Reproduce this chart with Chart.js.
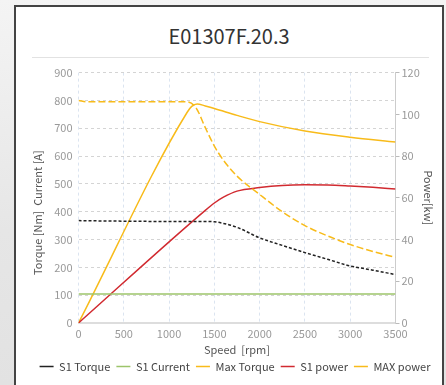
<!DOCTYPE html>
<html>
<head>
<meta charset="utf-8">
<script src="https://cdn.jsdelivr.net/npm/chart.js@4.4.1/dist/chart.umd.min.js"></script>
<style>
  html, body { margin: 0; padding: 0; }
  body {
    width: 446px; height: 385px; overflow: hidden; position: relative;
    background: linear-gradient(180deg, #f4f4f4 0%, #e6e6e6 60%, #e2e2e2 100%);
    font-family: "Noto Sans CJK SC", "Noto Sans", sans-serif;
  }
  #card {
    position: absolute; left: 14px; top: 5px; width: 426px; height: 400px;
    background: #fff; border: 2px solid #444; border-bottom: none;
  }
  #title {
    position: absolute; left: 0; top: 14px; width: 426px; text-align: center;
    font-size: 20px; color: #333;
  }
  #sep {
    position: absolute; left: 16px; top: 50px; width: 397px; height: 1px; background: #e2e2e2;
  }
  #wrap { position: absolute; left: 1px; top: 53px; width: 424px; height: 326px; }
</style>
</head>
<body>
<div id="card">
  <div id="title">E01307F.20.3</div>
  <div id="sep"></div>
  <div id="wrap"><canvas id="chartMotor"></canvas></div>
</div>
<script>
// speed axis [rpm]
const speedTicks = [0, 500, 1000, 1500, 2000, 2500, 3000, 3500];

// S1 torque [Nm]
const s1TorqueSpeed = [0, 500, 1000, 1400, 1500, 1600, 1750, 2000, 2250, 2500, 2750, 3000, 3250, 3500];
const s1TorqueVal   = [368, 366, 365, 365, 364, 358, 344, 306, 279, 253, 229, 205, 190, 174];

// S1 current [A]
const s1CurrentSpeed = [0, 3500];
const s1CurrentVal   = [104, 104];

// max torque [Nm]
const maxTorqueSpeed = [0, 100, 600, 1200, 1300, 1400, 1500, 1600, 1750, 2000, 2250, 2500, 2750, 3000, 3250, 3500];
const maxTorqueVal   = [800, 795, 795, 795, 772, 702, 636, 585, 528, 462, 400, 350, 313, 282, 257, 236];

// S1 power [kW]
const s1PowerSpeed = [0, 1400, 1500, 1600, 1750, 2000, 2250, 2500, 2750, 3000, 3250, 3500];
const s1PowerVal   = [0, 54, 57.5, 60.3, 63.2, 64.9, 65.9, 66.2, 66.1, 65.6, 65, 64.2];

// max power [kW]
const maxPowerSpeed = [0, 1200, 1250, 1310, 1400, 1500, 1750, 2000, 2500, 3000, 3500];
const maxPowerVal   = [0, 101, 103.8, 105, 104, 102.8, 99.5, 96.5, 92, 89, 86.7];

function toPoints(xs, ys) {
    return xs.map(function(x, i) { return { x: x, y: ys[i] }; });
}

const tickColor = '#999';
const fontFamily = '"Noto Sans CJK SC", "Noto Sans", sans-serif';

var ctx = document.getElementById('chartMotor').getContext('2d');
new Chart(ctx, {
    type: 'line',
    data: {
        datasets: [{
            label: 'S1 Torque',
            data: toPoints(s1TorqueSpeed, s1TorqueVal),
            borderColor: '#222',
            borderWidth: 1.5,
            borderDash: [3, 2],
            yAxisID: 'y'
        }, {
            label: 'S1 Current',
            data: toPoints(s1CurrentSpeed, s1CurrentVal),
            borderColor: '#9cc46a',
            borderWidth: 1.5,
            yAxisID: 'y'
        }, {
            label: 'Max Torque',
            data: toPoints(maxTorqueSpeed, maxTorqueVal),
            borderColor: '#f8bb1a',
            borderWidth: 1.5,
            borderDash: [7, 3],
            yAxisID: 'y'
        }, {
            label: 'S1 power',
            data: toPoints(s1PowerSpeed, s1PowerVal),
            borderColor: '#d12a30',
            borderWidth: 1.5,
            yAxisID: 'y1'
        }, {
            label: 'MAX power',
            data: toPoints(maxPowerSpeed, maxPowerVal),
            borderColor: '#f8bb1a',
            borderWidth: 1.5,
            yAxisID: 'y1'
        }]
    },
    options: {
        responsive: true,
        maintainAspectRatio: false,
        animation: false,
        layout: { padding: { left: 14, right: 2, top: 2, bottom: 4 } },
        elements: {
            point: { radius: 0 },
            line: { cubicInterpolationMode: 'monotone', fill: false }
        },
        plugins: {
            tooltip: { enabled: false },
            legend: {
                position: 'bottom',
                labels: {
                    usePointStyle: true,
                    pointStyle: 'line',
                    pointStyleWidth: 14,
                    boxHeight: 8,
                    padding: 6,
                    color: '#444',
                    font: { family: fontFamily, size: 11 }
                }
            }
        },
        scales: {
            x: {
                type: 'linear',
                min: 0,
                max: 3500,
                afterBuildTicks: function(axis) {
                    axis.ticks = speedTicks.map(function(v) { return { value: v }; });
                },
                title: {
                    display: true,
                    text: 'Speed  [rpm]',
                    color: '#555',
                    padding: { top: 0, bottom: 0 },
                    font: { family: fontFamily, size: 11, lineHeight: 1.0 }
                },
                ticks: {
                    color: tickColor, padding: 5, font: { family: fontFamily, size: 11, lineHeight: 1.0 },
                    callback: function(v) { return String(v); }
                },
                grid: { color: '#dbe4f0', drawTicks: false },
                border: { color: '#dddddd', width: 2, dash: [3, 3] }
            },
            y: {
                position: 'left',
                min: 0,
                max: 900,
                ticks: { stepSize: 100, color: tickColor, padding: 6, font: { family: fontFamily, size: 11 } },
                title: {
                    display: true,
                    text: 'Torque [Nm]  Current [A]' + '\u00a0'.repeat(12),
                    color: '#555',
                    padding: { top: 0, bottom: 4 },
                    font: { family: fontFamily, size: 11 }
                },
                grid: { color: '#d4d4d4', drawTicks: false },
                border: { display: false, dash: [3, 3] }
            },
            y1: {
                position: 'right',
                min: 0,
                max: 120,
                ticks: { stepSize: 20, color: tickColor, padding: 2, font: { family: fontFamily, size: 11 } },
                title: {
                    display: true,
                    text: 'Power[kw]',
                    color: '#555',
                    padding: { top: 4, bottom: 0 },
                    font: { family: fontFamily, size: 11 }
                },
                grid: { drawOnChartArea: false, color: '#bbb', tickLength: 4 },
                border: { color: '#cccccc' }
            }
        }
    }
});
</script>
</body>
</html>
